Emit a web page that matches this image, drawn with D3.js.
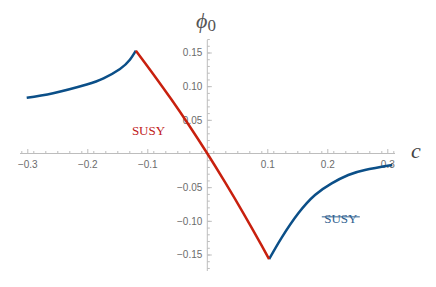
<html>
<head>
<meta charset="utf-8">
<style>
  body { margin: 0; background: #fff; }
  .tick text { font-family: 'Liberation Sans', Arial, sans-serif; font-size: 10px; fill: #6b6b6b; }
</style>
</head>
<body>
<svg id="svg"></svg>
<script src="https://d3js.org/d3.v7.min.js"></script>
<script>

// phase boundary data
const leftC   = [-0.301, -0.257, -0.201, -0.173, -0.1455, -0.129, -0.119];
const leftPhi = [0.0829, 0.0895, 0.1024, 0.1116, 0.1256, 0.1392, 0.1527];

const midC   = [-0.119, -0.09, -0.06, -0.03, 0, 0.03, 0.06, 0.09, 0.103];
const midPhi = [0.1527, 0.1178, 0.0805, 0.0413, 0, -0.0433, -0.0885, -0.1358, -0.157];

const rightC   = [0.103, 0.124, 0.1517, 0.1795, 0.2073, 0.235, 0.2628, 0.3083];
const rightPhi = [-0.157, -0.125, -0.0889, -0.0617, -0.0443, -0.0319, -0.0245, -0.0171];

const xMajor = [-0.3, -0.2, -0.1, 0.1, 0.2, 0.3];
const yMajor = [-0.15, -0.10, -0.05, 0.05, 0.10, 0.15];

const width = 436;
const height = 287;

const svg = d3.select("#svg")
    .attr("width", width)
    .attr("height", height);

const xScale = d3.scaleLinear()
    .domain([-0.3, 0.3])
    .range([27.3, 387.3]);

const yScale = d3.scaleLinear()
    .domain([-0.15, 0.15])
    .range([254.5, 52.5]);

const axisColor = "#bdbdbd";

// minor ticks
const xMinor = d3.range(-0.31, 0.311, 0.02).map(d => +d.toFixed(2)).filter(d => Math.abs(d) > 1e-9);
const yMinor = d3.range(-0.17, 0.171, 0.01).map(d => +d.toFixed(2)).filter(d => Math.abs(d) > 1e-9);

const xAxisG = svg.append("g")
    .attr("transform", `translate(0, ${yScale(0)})`);

xAxisG.append("g")
    .call(d3.axisBottom(xScale).tickValues(xMinor).tickSizeInner(-2.5).tickSizeOuter(0).tickFormat(""))
    .call(g => g.select(".domain").remove());

xAxisG.append("g")
    .call(d3.axisBottom(xScale).tickValues(xMajor).tickSizeInner(-4.5).tickSizeOuter(0).tickPadding(7).tickFormat(d3.format(".1f")))
    .call(g => g.select(".domain").remove());

svg.append("line")
    .attr("x1", 20).attr("x2", 395)
    .attr("y1", yScale(0)).attr("y2", yScale(0))
    .attr("stroke", axisColor);

const yAxisG = svg.append("g")
    .attr("transform", `translate(${xScale(0)}, 0)`);

yAxisG.append("g")
    .call(d3.axisLeft(yScale).tickValues(yMinor).tickSizeInner(-2.5).tickSizeOuter(0).tickFormat(""))
    .call(g => g.select(".domain").remove());

yAxisG.append("g")
    .call(d3.axisLeft(yScale).tickValues(yMajor).tickSizeInner(-4.5).tickSizeOuter(0).tickPadding(5).tickFormat(d3.format(".2f")))
    .call(g => g.select(".domain").remove());

svg.append("line")
    .attr("x1", xScale(0)).attr("x2", xScale(0))
    .attr("y1", 40).attr("y2", 271)
    .attr("stroke", axisColor);

svg.selectAll(".tick line").attr("stroke", axisColor);

// axis labels
svg.append("text")
    .attr("x", 196).attr("y", 28)
    .attr("font-family", "'Liberation Serif', 'DejaVu Serif', serif")
    .attr("font-size", 22)
    .attr("font-style", "italic")
    .attr("fill", "#555")
    .text("\u03d5")
    .append("tspan")
    .attr("font-style", "normal")
    .attr("font-size", 17)
    .attr("dy", 3)
    .text("0");

svg.append("text")
    .attr("x", 411).attr("y", 158)
    .attr("font-family", "'Liberation Serif', 'DejaVu Serif', serif")
    .attr("font-size", 22)
    .attr("font-style", "italic")
    .attr("fill", "#444")
    .text("c");

// curves
const smooth = d3.line()
    .x(d => xScale(d[0]))
    .y(d => yScale(d[1]))
    .curve(d3.curveNatural);

const straight = d3.line()
    .x(d => xScale(d[0]))
    .y(d => yScale(d[1]))
    .curve(d3.curveMonotoneX);

svg.append("path")
    .datum(d3.zip(leftC, leftPhi))
    .attr("fill", "none")
    .attr("stroke", "#0b4f88")
    .attr("stroke-width", 2.5)
    .attr("d", smooth);

svg.append("path")
    .datum(d3.zip(rightC, rightPhi))
    .attr("fill", "none")
    .attr("stroke", "#0b4f88")
    .attr("stroke-width", 2.5)
    .attr("d", smooth);

svg.append("path")
    .datum(d3.zip(midC, midPhi))
    .attr("fill", "none")
    .attr("stroke", "#c8200e")
    .attr("stroke-width", 2.5)
    .attr("stroke-linejoin", "round")
    .attr("d", straight);

// region labels
svg.append("text")
    .attr("x", xScale(-0.098)).attr("y", yScale(0.028))
    .attr("text-anchor", "middle")
    .attr("font-family", "'Liberation Serif', serif")
    .attr("font-size", 13)
    .attr("fill", "#c0201a")
    .text("SUSY");

svg.append("text")
    .attr("x", xScale(0.2225)).attr("y", yScale(-0.103))
    .attr("text-anchor", "middle")
    .attr("font-family", "'Liberation Serif', serif")
    .attr("font-size", 13)
    .attr("fill", "#2f5f8f")
    .text("SUSY");

svg.append("line")
    .attr("x1", xScale(0.2225) - 19).attr("x2", xScale(0.2225) + 19)
    .attr("y1", yScale(-0.103) - 6).attr("y2", yScale(-0.103) - 6)
    .attr("stroke", "#2f5f8f")
    .attr("stroke-width", 1);

</script>
</body>
</html>
